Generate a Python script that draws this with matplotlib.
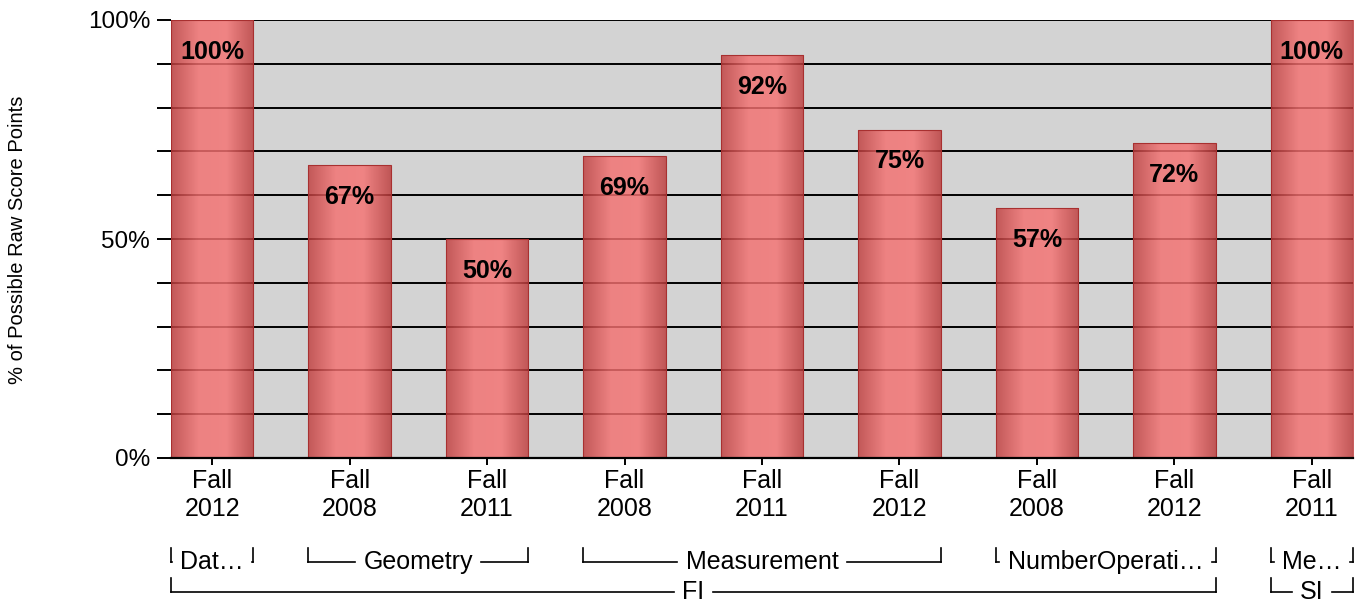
"""Bar chart: % of possible raw score points by strand and administration."""

import matplotlib

matplotlib.use("Agg")
import matplotlib.pyplot as plt
import numpy as np
from matplotlib.colors import LinearSegmentedColormap

plt.rcParams["font.family"] = ["Liberation Sans", "DejaVu Sans"]

# data
seasons = ["Fall\n2012", "Fall\n2008", "Fall\n2011", "Fall\n2008", "Fall\n2011",
           "Fall\n2012", "Fall\n2008", "Fall\n2012", "Fall\n2011"]
percent = [100, 67, 50, 69, 92, 75, 57, 72, 100]
# (label, first bar, last bar)
strands = [("Dat…", 0, 0), ("Geometry", 1, 2), ("Measurement", 3, 5),
           ("NumberOperati…", 6, 7), ("Me…", 8, 8)]
programs = [("FI", 0, 7), ("SI", 8, 8)]

W, H = 1367, 603
BAR_W = 0.6
ALPHA = 0.82

fig = plt.figure(figsize=(W / 100, H / 100), dpi=100)
ax = fig.add_axes([171 / W, 1 - 458 / H, (1353 - 171) / W, (458 - 20) / H])
ax.set_facecolor("#d3d3d3")

for y in range(10, 101, 10):
    ax.axhline(y, color="black", linewidth=1.4, zorder=1)


def under(rgb):
    # colour to draw at ALPHA so it shows as rgb over the grey background
    return tuple(max(0.0, min(1.0, (c / 255 - (1 - ALPHA) * 211 / 255) / ALPHA)) for c in rgb)


cmap = LinearSegmentedColormap.from_list(
    "bar", [under((194, 88, 88)), under((238, 130, 130)), under((240, 132, 132)), under((192, 86, 86))])
grad = np.linspace(0, 1, 256).reshape(1, -1)
x = np.arange(len(percent))
bars = ax.bar(x, percent, width=BAR_W, color="none", edgecolor="#a83030",
              linewidth=0.8, zorder=3)
for b, v in zip(bars, percent):
    im = ax.imshow(grad, cmap=cmap, aspect="auto", zorder=2, alpha=ALPHA,
                   extent=[b.get_x(), b.get_x() + b.get_width(), 0, v])
    im.set_clip_path(b)
    ax.text(b.get_x() + b.get_width() / 2, v - 7.3, f"{v}%", ha="center", va="center",
            fontsize=18, fontweight="bold", zorder=4)
ax.set_xlim(-BAR_W / 2, len(percent) - 1 + BAR_W / 2)
ax.set_ylim(0, 100)

ax.set_yticks(range(0, 101, 10))
ax.set_yticklabels([f"{t}%" if t % 50 == 0 else "" for t in range(0, 101, 10)], fontsize=17.5)
ax.tick_params(axis="y", length=10, width=1.4, pad=5)
ax.set_xticks(x)
ax.set_xticklabels(seasons, fontsize=18, linespacing=1.18)
ax.tick_params(axis="x", length=5, width=1.4, pad=3)
for side in ["top", "right", "left"]:
    ax.spines[side].set_visible(False)
ax.spines["bottom"].set_linewidth(1.6)
ax.spines["bottom"].set_zorder(5)

fig.text(18 / W, 1 - 240 / H, "% of Possible Raw Score Points", rotation=90,
         ha="center", va="center", fontsize=14.5)


def yfrac(py):
    return (458 - py) / (458 - 20)


trans = ax.get_xaxis_transform()
fig.canvas.draw()
renderer = fig.canvas.get_renderer()


def bracket(groups, y_top, y_line):
    for label, a, b in groups:
        x0, x1 = a - BAR_W / 2, b + BAR_W / 2
        t = ax.text((x0 + x1) / 2, yfrac(y_line), label, transform=trans,
                    ha="center", va="center", fontsize=18, clip_on=False)
        bb = t.get_window_extent(renderer).transformed(ax.transData.inverted())
        pad = 0.06
        for xe in (x0, x1):
            ax.plot([xe, xe], [yfrac(y_top), yfrac(y_line)], transform=trans,
                    color="black", linewidth=1.2, clip_on=False)
        if bb.x0 - pad > x0:
            ax.plot([x0, bb.x0 - pad], [yfrac(y_line)] * 2, transform=trans,
                    color="black", linewidth=1.2, clip_on=False)
            ax.plot([bb.x1 + pad, x1], [yfrac(y_line)] * 2, transform=trans,
                    color="black", linewidth=1.2, clip_on=False)


bracket(strands, 548, 562)
bracket(programs, 578, 592)

fig.savefig("out.png", dpi=100)
